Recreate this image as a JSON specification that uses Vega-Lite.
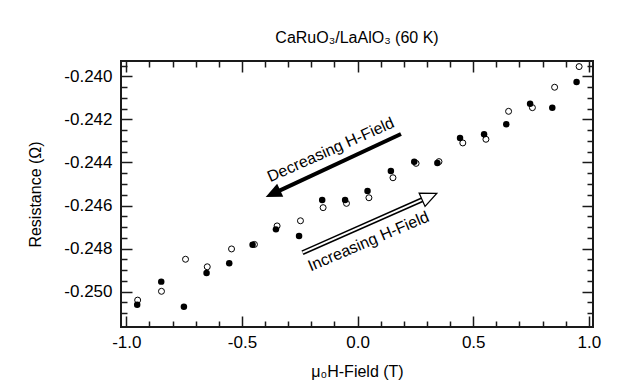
{
  "$schema": "https://vega.github.io/schema/vega-lite/v6.json",
  "width": 472,
  "height": 266,
  "autosize": "none",
  "padding": {"left": 121, "top": 61, "right": 25, "bottom": 60},
  "background": "white",
  "view": {"stroke": "#1a1a1a", "strokeWidth": 2},
  "title": {"text": "CaRuO₃/LaAlO₃ (60 K)", "fontSize": 16, "fontWeight": "normal", "font": "Liberation Sans", "color": "black", "offset": 14, "anchor": "middle"},
  "config": {
    "view": {"stroke": "#1a1a1a", "strokeWidth": 2},
    "font": "Liberation Sans",
    "locale": {"number": {"decimal": ".", "thousands": ",", "grouping": [3], "currency": ["$", ""], "minus": "-"}},
    "axis": {
      "domain": false, "ticks": true, "tickColor": "#1a1a1a", "tickWidth": 1.5,
      "labelColor": "black", "labelFontSize": 17, "labelFont": "Liberation Sans",
      "titleFontSize": 16, "titleFont": "Liberation Sans", "titleFontWeight": "normal", "titleColor": "black",
      "grid": false, "labelFlush": false, "labelOverlap": false
    }
  },
  "datasets": {
    "pts": [
      {"H": -0.953, "R": -0.25061, "marker": "filled"},
      {"H": -0.849, "R": -0.24954, "marker": "filled"},
      {"H": -0.751, "R": -0.25071, "marker": "filled"},
      {"H": -0.653, "R": -0.24914, "marker": "filled"},
      {"H": -0.555, "R": -0.24869, "marker": "filled"},
      {"H": -0.454, "R": -0.24782, "marker": "filled"},
      {"H": -0.353, "R": -0.24711, "marker": "filled"},
      {"H": -0.253, "R": -0.24742, "marker": "filled"},
      {"H": -0.153, "R": -0.24574, "marker": "filled"},
      {"H": -0.054, "R": -0.24574, "marker": "filled"},
      {"H": 0.043, "R": -0.24533, "marker": "filled"},
      {"H": 0.144, "R": -0.2444, "marker": "filled"},
      {"H": 0.245, "R": -0.24396, "marker": "filled"},
      {"H": 0.345, "R": -0.24402, "marker": "filled"},
      {"H": 0.443, "R": -0.24286, "marker": "filled"},
      {"H": 0.547, "R": -0.24269, "marker": "filled"},
      {"H": 0.643, "R": -0.24222, "marker": "filled"},
      {"H": 0.746, "R": -0.24127, "marker": "filled"},
      {"H": 0.842, "R": -0.24145, "marker": "filled"},
      {"H": 0.947, "R": -0.24026, "marker": "filled"},
      {"H": -0.951, "R": -0.2504, "marker": "open"},
      {"H": -0.848, "R": -0.24999, "marker": "open"},
      {"H": -0.744, "R": -0.2485, "marker": "open"},
      {"H": -0.65, "R": -0.24885, "marker": "open"},
      {"H": -0.545, "R": -0.24802, "marker": "open"},
      {"H": -0.446, "R": -0.24781, "marker": "open"},
      {"H": -0.348, "R": -0.24695, "marker": "open"},
      {"H": -0.247, "R": -0.24671, "marker": "open"},
      {"H": -0.149, "R": -0.2461, "marker": "open"},
      {"H": -0.048, "R": -0.2459, "marker": "open"},
      {"H": 0.049, "R": -0.24564, "marker": "open"},
      {"H": 0.153, "R": -0.24471, "marker": "open"},
      {"H": 0.253, "R": -0.24404, "marker": "open"},
      {"H": 0.352, "R": -0.24396, "marker": "open"},
      {"H": 0.455, "R": -0.24309, "marker": "open"},
      {"H": 0.555, "R": -0.24292, "marker": "open"},
      {"H": 0.653, "R": -0.24162, "marker": "open"},
      {"H": 0.756, "R": -0.24145, "marker": "open"},
      {"H": 0.852, "R": -0.2405, "marker": "open"},
      {"H": 0.958, "R": -0.23954, "marker": "open"}
    ],
    "arrows": [
      {"name": "dec", "x": 0.1876, "y": -0.242674, "xb": -0.3423, "yb": -0.24533, "xt": -0.3973, "yt": -0.245605},
      {"name": "inc", "x": -0.2383, "y": -0.248195, "xb": 0.2829, "yb": -0.245716, "xt": 0.3423, "yt": -0.245433}
    ],
    "labels": [
      {"name": "dec", "label": "Decreasing H-Field", "x": -0.107, "y": -0.243628},
      {"name": "inc", "label": "Increasing H-Field", "x": 0.0555, "y": -0.247884}
    ]
  },
  "layer": [
    {
      "data": {"name": "pts"},
      "transform": [{"filter": "datum.marker === 'open'"}],
      "mark": {"type": "point", "shape": "circle", "size": 36, "filled": true, "fill": "white", "stroke": "black", "strokeWidth": 1, "opacity": 1},
      "encoding": {
        "x": {"field": "H", "type": "quantitative", "scale": {"domain": [-1.023, 1.018], "nice": false, "zero": false},
          "axis": {"orient": "bottom", "values": [-1, -0.5, 0, 0.5, 1], "format": ".1f", "ticks": true, "tickColor": "#1a1a1a", "tickWidth": 1.5, "tickSize": 11, "offset": -11, "labelPadding": 7, "labelFontSize": 17, "title": "μ₀H-Field (T)", "titlePadding": 13}},
        "y": {"field": "R", "type": "quantitative", "scale": {"domain": [-0.25165, -0.23928], "nice": false, "zero": false},
          "axis": {"orient": "left", "values": [-0.25, -0.248, -0.246, -0.244, -0.242, -0.24], "format": ".3f", "ticks": true, "tickColor": "#1a1a1a", "tickWidth": 1.5, "tickSize": 11, "offset": -11, "labelPadding": 9, "labelFontSize": 17, "title": "Resistance (Ω)", "titlePadding": 20}}
      }
    },
    {
      "data": {"name": "pts"},
      "transform": [{"filter": "datum.marker === 'filled'"}],
      "mark": {"type": "circle", "size": 42, "color": "black", "opacity": 1},
      "encoding": {
        "x": {"field": "H", "type": "quantitative", "scale": {"domain": [-1.023, 1.018], "nice": false, "zero": false},
          "axis": {"orient": "bottom", "values": [-0.9, -0.8, -0.7, -0.6, -0.4, -0.3, -0.2, -0.1, 0.1, 0.2, 0.3, 0.4, 0.6, 0.7, 0.8, 0.9], "ticks": true, "tickColor": "#1a1a1a", "tickSize": 6, "offset": -6, "labels": false, "title": null}},
        "y": {"field": "R", "type": "quantitative", "scale": {"domain": [-0.25165, -0.23928], "nice": false, "zero": false},
          "axis": {"orient": "left", "values": [-0.251, -0.2505, -0.2495, -0.249, -0.2485, -0.2475, -0.247, -0.2465, -0.2455, -0.245, -0.2445, -0.2435, -0.243, -0.2425, -0.2415, -0.241, -0.2405, -0.2395], "ticks": true, "tickColor": "#1a1a1a", "tickSize": 6, "offset": -6, "labels": false, "title": null}}
      }
    },
    {
      "data": {"name": "arrows"},
      "transform": [{"filter": "datum.name === 'dec'"}],
      "mark": {"type": "rule", "color": "black", "strokeWidth": 4},
      "encoding": {
        "x": {"field": "x", "type": "quantitative", "scale": {"domain": [-1.023, 1.018], "nice": false, "zero": false},
          "axis": {"orient": "top", "values": [-1, -0.5, 0, 0.5, 1], "ticks": true, "tickColor": "#1a1a1a", "tickSize": 11, "offset": -11, "labels": false, "title": null}},
        "y": {"field": "y", "type": "quantitative", "scale": {"domain": [-0.25165, -0.23928], "nice": false, "zero": false},
          "axis": {"orient": "right", "values": [-0.25, -0.248, -0.246, -0.244, -0.242, -0.24], "ticks": true, "tickColor": "#1a1a1a", "tickSize": 11, "offset": -11, "labels": false, "title": null}},
        "x2": {"field": "xb"},
        "y2": {"field": "yb"}
      }
    },
    {
      "data": {"name": "arrows"},
      "transform": [{"filter": "datum.name === 'dec'"}],
      "mark": {"type": "point", "shape": "M0,0L-0.9,2L0.9,2Z", "size": 256, "angle": 245, "filled": true, "color": "black", "opacity": 1},
      "encoding": {
        "x": {"field": "xt", "type": "quantitative", "axis": null},
        "y": {"field": "yt", "type": "quantitative", "axis": null}
      }
    },
    {
      "data": {"name": "arrows"},
      "transform": [{"filter": "datum.name === 'inc'"}],
      "mark": {"type": "rule", "color": "black", "strokeWidth": 5},
      "encoding": {
        "x": {"field": "x", "type": "quantitative", "scale": {"domain": [-1.023, 1.018], "nice": false, "zero": false},
          "axis": {"orient": "top", "values": [-0.9, -0.8, -0.7, -0.6, -0.4, -0.3, -0.2, -0.1, 0.1, 0.2, 0.3, 0.4, 0.6, 0.7, 0.8, 0.9], "ticks": true, "tickColor": "#1a1a1a", "tickSize": 6, "offset": -6, "labels": false, "title": null}},
        "y": {"field": "y", "type": "quantitative", "scale": {"domain": [-0.25165, -0.23928], "nice": false, "zero": false},
          "axis": {"orient": "right", "values": [-0.251, -0.2505, -0.2495, -0.249, -0.2485, -0.2475, -0.247, -0.2465, -0.2455, -0.245, -0.2445, -0.2435, -0.243, -0.2425, -0.2415, -0.241, -0.2405, -0.2395], "ticks": true, "tickColor": "#1a1a1a", "tickSize": 6, "offset": -6, "labels": false, "title": null}},
        "x2": {"field": "xb"},
        "y2": {"field": "yb"}
      }
    },
    {
      "data": {"name": "arrows"},
      "transform": [{"filter": "datum.name === 'inc'"}],
      "mark": {"type": "rule", "color": "white", "strokeWidth": 2},
      "encoding": {
        "x": {"field": "x", "type": "quantitative", "axis": null},
        "y": {"field": "y", "type": "quantitative", "axis": null},
        "x2": {"field": "xb"},
        "y2": {"field": "yb"}
      }
    },
    {
      "data": {"name": "arrows"},
      "transform": [{"filter": "datum.name === 'inc'"}],
      "mark": {"type": "point", "shape": "M0,0L-0.9,2L0.9,2Z", "size": 256, "angle": 66, "filled": true, "fill": "white", "stroke": "black", "strokeWidth": 1.3, "opacity": 1},
      "encoding": {
        "x": {"field": "xt", "type": "quantitative", "axis": null},
        "y": {"field": "yt", "type": "quantitative", "axis": null}
      }
    },
    {
      "data": {"name": "labels"},
      "transform": [{"filter": "datum.name === 'dec'"}],
      "mark": {"type": "text", "angle": -24, "fontSize": 16, "font": "Liberation Sans", "align": "center", "baseline": "alphabetic", "color": "black"},
      "encoding": {
        "x": {"field": "x", "type": "quantitative", "axis": null},
        "y": {"field": "y", "type": "quantitative", "axis": null},
        "text": {"field": "label"}
      }
    },
    {
      "data": {"name": "labels"},
      "transform": [{"filter": "datum.name === 'inc'"}],
      "mark": {"type": "text", "angle": -23, "fontSize": 16, "font": "Liberation Sans", "align": "center", "baseline": "alphabetic", "color": "black"},
      "encoding": {
        "x": {"field": "x", "type": "quantitative", "axis": null},
        "y": {"field": "y", "type": "quantitative", "axis": null},
        "text": {"field": "label"}
      }
    }
  ],
  "resolve": {"axis": {"x": "independent", "y": "independent"}}
}
